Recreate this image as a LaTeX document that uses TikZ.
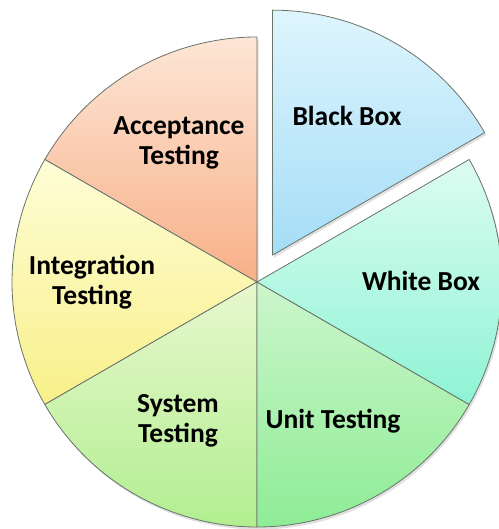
\documentclass[tikz,border=0pt]{standalone}
\usepackage{fontspec}
\setmainfont{Carlito}
\usetikzlibrary{calc}
\definecolor{sliceline}{RGB}{105,115,105}
\definecolor{accT}{HTML}{FDE6D6}
\definecolor{accB}{HTML}{F8B088}
\definecolor{intT}{HTML}{FEFDD6}
\definecolor{intB}{HTML}{F8F08A}
\definecolor{sysT}{HTML}{E8F8CE}
\definecolor{sysB}{HTML}{B2EE90}
\definecolor{unitT}{HTML}{CCF6CC}
\definecolor{unitB}{HTML}{8EEC96}
\definecolor{whT}{HTML}{DCFCF1}
\definecolor{whB}{HTML}{8EF3D4}
\definecolor{bbT}{HTML}{DEF5FD}
\definecolor{bbB}{HTML}{A4DDF7}
\begin{document}
\begin{tikzpicture}[x=1pt,y=1pt,
  slice/.style={draw=sliceline, line width=0.8pt, line join=round},
  shade/.style={fill=black, opacity=0.12},
  lbl/.style={font=\fontsize{27.5}{30}\selectfont\bfseries, align=center, text=black, inner sep=0pt}]
\useasboundingbox (0,0) rectangle (498,529);
\def\R{245}
\coordinate (c) at (257,247);
\coordinate (cb) at ($(c)+(60:31)$);
% shadows
\fill[shade] ($(c)+(1.5,-2.5)$) -- ++(90:\R) arc[start angle=90,end angle=390,radius=\R] -- cycle;
\fill[shade] ($(cb)+(1.5,-2.5)$) -- ++(30:\R) arc[start angle=30,end angle=90,radius=\R] -- cycle;
% slices
\draw[slice, top color=accT, bottom color=accB] (c) -- ++(90:\R) arc[start angle=90,end angle=150,radius=\R] -- cycle;
\draw[slice, top color=intT, bottom color=intB] (c) -- ++(150:\R) arc[start angle=150,end angle=210,radius=\R] -- cycle;
\draw[slice, top color=sysT, bottom color=sysB] (c) -- ++(210:\R) arc[start angle=210,end angle=270,radius=\R] -- cycle;
\draw[slice, top color=unitT, bottom color=unitB] (c) -- ++(270:\R) arc[start angle=270,end angle=330,radius=\R] -- cycle;
\draw[slice, top color=whT, bottom color=whB] (c) -- ++(330:\R) arc[start angle=330,end angle=390,radius=\R] -- cycle;
\draw[slice, top color=bbT, bottom color=bbB] (cb) -- ++(30:\R) arc[start angle=30,end angle=90,radius=\R] -- cycle;
% labels
\node[lbl] (bb) at (347,413) {Black Box};
\node[lbl] (acc) at (179,386) {Acceptance\\Testing};
\node[lbl] (int) at (92,247) {Integration\\Testing};
\node[lbl] (sys) at (178,108) {System\\Testing};
\node[lbl] (unit) at (333,108) {Unit Testing};
\node[lbl] (wb) at (421,248) {White Box};
\end{tikzpicture}
\end{document}
